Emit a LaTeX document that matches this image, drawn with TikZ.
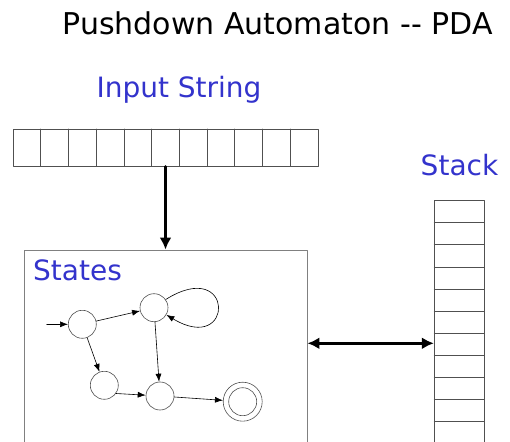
\documentclass[tikz,border=0pt]{standalone}
\usepackage{fontspec}
\setmainfont{DejaVu Sans}
\usetikzlibrary{arrows.meta}
\definecolor{darkgray}{RGB}{80,80,80}
\definecolor{boxgray}{RGB}{128,128,128}
\definecolor{labblue}{RGB}{51,51,204}
\tikzset{
    lab/.style={
        font=\fontsize{28}{34}\selectfont, text=labblue
    }
}

\begin{document}
\begin{tikzpicture}[x=1pt,y=1pt, line cap=round, line join=round]

% background
\path[use as bounding box, clip] (0,0) rectangle (510,441);

\tikzset{
  frame/.style={draw=boxgray, line width=0.9pt, inner sep=0pt},
  cell/.style={draw=darkgray, line width=0.8pt},
  st/.style={circle, draw=darkgray, line width=0.6pt, minimum size=28pt, inner sep=0pt},
  edge/.style={draw=black, line width=0.6pt, -{Latex[length=8pt,width=6pt]}},
  bigarrow/.style={draw=black, line width=2.4pt, -{Latex[length=12pt,width=12pt]}},
  twoway/.style={draw=black, line width=2.6pt, {Latex[length=12pt,width=12pt]}-{Latex[length=12pt,width=12pt]}},
}

% boxes
\node[frame, draw=darkgray, minimum width=305pt, minimum height=37pt] (tape) at (165.5,293.5) {};
\node[frame, minimum width=283pt, minimum height=201pt] (states) at (165.5,90.5) {};
\node[frame, draw=darkgray, minimum width=50pt, minimum height=250pt] (stack) at (459.3,115.3) {};

% cells
\foreach \k in {1,...,10} {
  \draw[cell] (13+\k*27.73,275) -- ++(0,37);
  \draw[cell] (434.3,240.3-\k*22.1) -- ++(50,0);
}

% states
\node[st] (A) at (82.3,116.7) {};
\node[st] (B) at (154,133.3) {};
\node[st] (C) at (104.3,55.7) {};
\node[st] (D) at (160,45) {};
\node[st, minimum size=39pt] (E) at (242.7,39.3) {};
\draw[darkgray, line width=0.6pt] (E) circle (14);
\coordinate (start) at (46.7,116.7);
\coordinate (link) at (0,97.7);

% transitions
\draw[edge] (start) -- (A);
\draw[edge] (A) -- (B);
\draw[edge] (A) -- (C);
\draw[edge] (B) -- (D);
\draw[edge] (C.-35) -- (D);
\draw[edge] (D) -- (E);
\draw[edge] (B.35) .. controls (235,185) and (235,85) .. (B.-30);

% arrows
\draw[bigarrow] (tape) -- (states);
\draw[twoway] (states.east |- link) -- (stack.west |- link);

% labels
\node[font=\fontsize{30}{36}\selectfont, anchor=base] (title) at (277.5,406) {Pushdown Automaton -{}- PDA};
\node[lab, anchor=base] (input) at (179,343) {Input String};
\node[lab, anchor=base] (stacklab) at (459.5,265) {Stack};
\node[lab, anchor=base west, inner sep=0pt] (stateslab) at (33,160) {States};

\end{tikzpicture}
\end{document}
